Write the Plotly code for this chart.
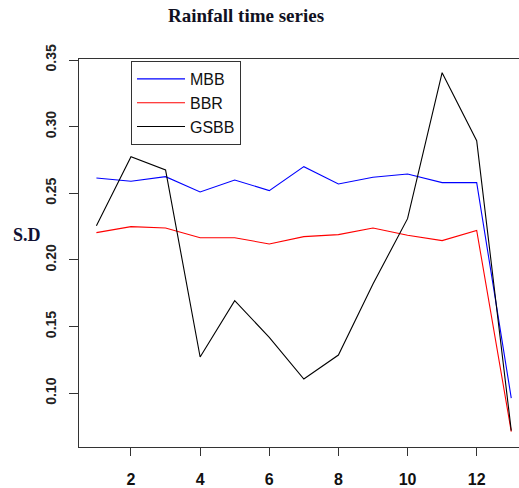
import plotly.graph_objects as go

x_vals = list(range(1, 14))
mbb = [0.2615, 0.259, 0.2625, 0.251, 0.260, 0.252, 0.270, 0.257, 0.262, 0.2645, 0.258, 0.258, 0.0964]
bbr = [0.2205, 0.225, 0.224, 0.2167, 0.2167, 0.212, 0.2175, 0.219, 0.224, 0.2185, 0.2145, 0.2222, 0.0712]
gsbb = [0.2257, 0.2775, 0.2675, 0.1272, 0.1695, 0.142, 0.1107, 0.1287, 0.182, 0.231, 0.3405, 0.2895, 0.072]
x_ticks = [2, 4, 6, 8, 10, 12]
y_ticks = [0.10, 0.15, 0.20, 0.25, 0.30, 0.35]
y_ticklabels = ["0.10", "0.15", "0.20", "0.25", "0.30", "0.35"]

W, H = 519, 488
L, R, T, B = 79, 0, 59, 41
pw, ph = W - L - R, H - T - B

fig = go.Figure()
for name, vals, col in [("MBB", mbb, "#0000ff"), ("BBR", bbr, "#ff0000"), ("GSBB", gsbb, "#000000")]:
    fig.add_trace(go.Scatter(x=x_vals, y=vals, mode="lines", name=name,
                             line=dict(color=col, width=1.1)))

axis_col = "#333333"
fig.update_layout(
    width=W, height=H,
    margin=dict(l=L, r=R, t=T, b=B),
    plot_bgcolor="white", paper_bgcolor="white",
    title=dict(text="<b>Rainfall time series</b>", x=246 / W, xanchor="center",
               y=1 - 15 / H, yanchor="middle",
               font=dict(family="Liberation Serif", size=19, color="#111122")),
    xaxis=dict(range=[0.496, 13.224], tickvals=x_ticks, ticktext=[str(v) for v in x_ticks],
               showgrid=False, zeroline=False, showline=True, linecolor=axis_col, linewidth=1,
               mirror=True, ticks="outside", ticklen=8, tickcolor=axis_col, tickwidth=1,
               ticklabelstandoff=10,
               tickfont=dict(family="Liberation Sans", size=16, color="#111111", weight="bold")),
    yaxis=dict(range=[0.0597, 0.35075], tickvals=y_ticks, ticktext=y_ticklabels,
               showgrid=False, zeroline=False, showline=True, linecolor=axis_col, linewidth=1,
               mirror=False, ticks="outside", ticklen=9, tickcolor=axis_col, tickwidth=1,
               tickangle=-90, ticklabelstandoff=7,
               tickfont=dict(family="Liberation Sans", size=14, color="#222222", weight="bold")),
    legend=dict(x=(131 - L) / pw, y=(H - B - 61) / ph, xanchor="left", yanchor="top",
                bgcolor="white", bordercolor="#333333", borderwidth=1,
                font=dict(family="Liberation Sans", size=16, color="#111111"),
                itemwidth=48, tracegroupgap=0),
    showlegend=True,
)
fig.add_annotation(text="<b>S.D</b>", xref="paper", yref="paper",
                   x=(27 - L) / pw, y=(H - B - 235) / ph, xanchor="center", yanchor="middle",
                   showarrow=False,
                   font=dict(family="Liberation Serif", size=18, color="#111133"))

fig.write_html("out.html")
